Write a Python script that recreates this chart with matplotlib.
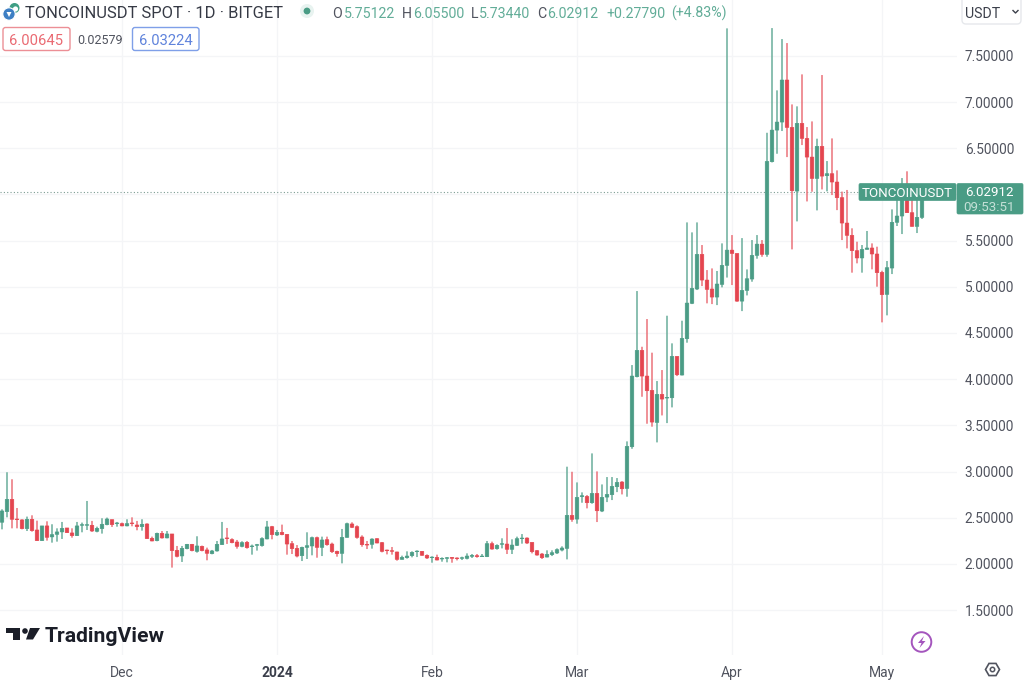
import numpy as np
import matplotlib
matplotlib.use("Agg")
import matplotlib.pyplot as plt
from matplotlib.patches import Circle, FancyBboxPatch, Polygon, RegularPolygon

plt.rcParams["font.family"] = ["Roboto", "DejaVu Sans"]

# daily candles, 7 Nov 2023 -> 9 May 2024
opens = [2.452, 2.567, 2.700, 2.487, 2.477, 2.383, 2.484, 2.368, 2.253, 2.412,
         2.293, 2.321, 2.347, 2.390, 2.336, 2.307, 2.419, 2.419, 2.419, 2.354,
         2.383, 2.426, 2.480, 2.437, 2.437, 2.412, 2.444, 2.422, 2.404, 2.433,
         2.278, 2.253, 2.332, 2.282, 2.325, 2.148, 2.087, 2.166, 2.213, 2.137,
         2.191, 2.152, 2.112, 2.141, 2.210, 2.282, 2.264, 2.238, 2.191, 2.235,
         2.188, 2.202, 2.199, 2.271, 2.404, 2.314, 2.343, 2.321, 2.220, 2.169,
         2.090, 2.180, 2.195, 2.285, 2.180, 2.263, 2.216, 2.137, 2.115, 2.288,
         2.433, 2.404, 2.292, 2.213, 2.213, 2.274, 2.231, 2.151, 2.144, 2.130,
         2.050, 2.068, 2.090, 2.133, 2.137, 2.094, 2.068, 2.072, 2.054, 2.061,
         2.072, 2.065, 2.061, 2.061, 2.083, 2.090, 2.079, 2.079, 2.220, 2.166,
         2.213, 2.216, 2.159, 2.202, 2.274, 2.281, 2.234, 2.144, 2.108, 2.075,
         2.101, 2.119, 2.151, 2.169, 2.526, 2.486, 2.728, 2.731, 2.663, 2.764,
         2.573, 2.724, 2.750, 2.836, 2.887, 2.818, 3.269, 4.027, 4.312, 4.034,
         3.879, 3.532, 3.836, 3.796, 3.799, 4.247, 4.045, 4.438, 4.821, 4.976,
         5.351, 5.073, 4.976, 4.889, 5.026, 5.232, 5.397, 5.361, 4.845, 4.961,
         5.084, 5.340, 5.462, 5.351, 6.354, 6.696, 6.783, 7.238, 6.725, 6.036,
         6.769, 6.606, 6.404, 6.173, 6.520, 6.202, 6.224, 6.134, 5.965, 5.690,
         5.557, 5.391, 5.312, 5.405, 5.420, 5.355, 5.156, 4.918, 5.203, 5.698,
         5.766, 5.975, 5.802, 5.654, 5.75122]
highs = [2.592, 2.993, 2.917, 2.606, 2.484, 2.513, 2.527, 2.469, 2.412, 2.462,
         2.430, 2.386, 2.455, 2.390, 2.386, 2.455, 2.448, 2.682, 2.466, 2.404,
         2.495, 2.502, 2.480, 2.455, 2.448, 2.484, 2.505, 2.466, 2.484, 2.440,
         2.296, 2.339, 2.357, 2.357, 2.325, 2.195, 2.195, 2.217, 2.217, 2.300,
         2.199, 2.177, 2.152, 2.249, 2.455, 2.390, 2.278, 2.260, 2.246, 2.249,
         2.210, 2.217, 2.289, 2.466, 2.412, 2.368, 2.426, 2.321, 2.249, 2.205,
         2.187, 2.343, 2.296, 2.296, 2.296, 2.296, 2.231, 2.144, 2.379, 2.447,
         2.451, 2.418, 2.310, 2.249, 2.278, 2.278, 2.238, 2.155, 2.184, 2.133,
         2.090, 2.137, 2.137, 2.148, 2.140, 2.104, 2.083, 2.101, 2.072, 2.075,
         2.075, 2.072, 2.079, 2.115, 2.108, 2.108, 2.108, 2.249, 2.242, 2.213,
         2.278, 2.389, 2.267, 2.296, 2.324, 2.288, 2.234, 2.151, 2.119, 2.148,
         2.148, 2.169, 2.191, 3.053, 2.998, 2.883, 2.775, 2.746, 3.197, 3.002,
         2.861, 2.941, 2.941, 2.930, 2.897, 3.327, 4.153, 4.954, 4.351, 4.651,
         4.287, 3.980, 4.099, 4.687, 4.388, 4.247, 4.633, 5.697, 5.589, 5.697,
         5.452, 5.181, 5.199, 5.171, 5.470, 7.797, 5.560, 5.361, 5.527, 5.188,
         5.506, 5.560, 5.506, 6.667, 7.800, 7.126, 7.681, 7.638, 6.974, 6.953,
         7.299, 6.729, 6.790, 6.603, 7.292, 6.361, 6.606, 6.260, 6.030, 6.048,
         5.633, 5.488, 5.452, 5.604, 5.470, 5.434, 5.174, 5.279, 5.838, 5.939,
         6.177, 6.250, 5.975, 5.975, 6.05500]
lows = [2.375, 2.505, 2.386, 2.386, 2.375, 2.357, 2.350, 2.249, 2.249, 2.253,
        2.231, 2.242, 2.271, 2.336, 2.285, 2.303, 2.343, 2.368, 2.347, 2.343,
        2.329, 2.419, 2.401, 2.404, 2.408, 2.408, 2.408, 2.365, 2.361, 2.271,
        2.246, 2.246, 2.275, 2.278, 1.961, 2.072, 2.022, 2.159, 2.137, 2.123,
        2.137, 2.040, 2.105, 2.134, 2.206, 2.217, 2.224, 2.166, 2.181, 2.166,
        2.101, 2.145, 2.188, 2.267, 2.267, 2.303, 2.311, 2.101, 2.108, 2.072,
        2.032, 2.054, 2.094, 2.068, 2.086, 2.198, 2.119, 2.079, 2.007, 2.285,
        2.389, 2.274, 2.187, 2.162, 2.166, 2.224, 2.126, 2.104, 2.101, 2.036,
        2.048, 2.058, 2.072, 2.075, 2.090, 2.054, 2.014, 2.039, 2.025, 2.018,
        2.014, 2.039, 2.043, 2.050, 2.065, 2.068, 2.077, 2.075, 2.155, 2.155,
        2.169, 2.108, 2.108, 2.195, 2.220, 2.216, 2.115, 2.090, 2.054, 2.072,
        2.086, 2.108, 2.137, 2.050, 2.457, 2.436, 2.663, 2.602, 2.652, 2.454,
        2.562, 2.670, 2.692, 2.778, 2.753, 2.728, 3.247, 4.020, 3.810, 3.518,
        3.486, 3.316, 3.608, 3.525, 3.695, 4.034, 4.041, 4.395, 4.813, 4.965,
        5.008, 4.821, 4.813, 4.802, 4.994, 5.100, 5.019, 4.838, 4.737, 4.907,
        5.055, 5.304, 5.325, 5.325, 6.346, 6.440, 6.686, 6.404, 5.405, 5.708,
        6.534, 5.924, 6.029, 5.827, 6.054, 6.033, 5.993, 5.830, 5.506, 5.416,
        5.153, 5.254, 5.153, 5.403, 5.189, 5.001, 4.615, 4.691, 5.138, 5.658,
        5.571, 5.799, 5.651, 5.582, 5.73440]
closes = [2.574, 2.700, 2.484, 2.480, 2.383, 2.484, 2.361, 2.253, 2.412, 2.289,
          2.318, 2.347, 2.386, 2.339, 2.307, 2.412, 2.426, 2.426, 2.357, 2.386,
          2.430, 2.487, 2.426, 2.444, 2.412, 2.437, 2.437, 2.404, 2.430, 2.275,
          2.249, 2.332, 2.282, 2.325, 2.145, 2.083, 2.170, 2.213, 2.145, 2.195,
          2.145, 2.116, 2.141, 2.213, 2.271, 2.275, 2.231, 2.191, 2.231, 2.177,
          2.195, 2.210, 2.275, 2.401, 2.318, 2.343, 2.318, 2.216, 2.166, 2.086,
          2.180, 2.198, 2.285, 2.180, 2.260, 2.209, 2.133, 2.112, 2.288, 2.436,
          2.397, 2.288, 2.209, 2.205, 2.270, 2.227, 2.137, 2.144, 2.137, 2.050,
          2.072, 2.086, 2.126, 2.140, 2.094, 2.065, 2.075, 2.043, 2.061, 2.068,
          2.061, 2.058, 2.068, 2.086, 2.094, 2.079, 2.086, 2.220, 2.162, 2.202,
          2.220, 2.159, 2.205, 2.274, 2.281, 2.227, 2.133, 2.097, 2.068, 2.104,
          2.122, 2.155, 2.173, 2.527, 2.483, 2.721, 2.739, 2.663, 2.764, 2.576,
          2.721, 2.753, 2.840, 2.883, 2.814, 3.273, 4.034, 4.312, 4.034, 3.875,
          3.536, 3.836, 3.785, 3.803, 4.247, 4.048, 4.442, 4.824, 4.983, 5.351,
          5.073, 4.972, 4.889, 5.030, 5.232, 5.397, 5.361, 4.845, 4.961, 5.087,
          5.340, 5.462, 5.351, 6.357, 6.696, 6.783, 7.238, 6.725, 6.040, 6.769,
          6.606, 6.404, 6.173, 6.520, 6.198, 6.224, 6.134, 5.964, 5.690, 5.557,
          5.391, 5.312, 5.405, 5.420, 5.355, 5.153, 4.915, 5.207, 5.698, 5.766,
          5.975, 5.802, 5.654, 5.752, 6.02912]

month_pos = [24, 55, 86, 115, 146, 176]
month_labels = ["Dec", "2024", "Feb", "Mar", "Apr", "May"]
price_ticks = [1.5, 2.0, 2.5, 3.0, 3.5, 4.0, 4.5, 5.0, 5.5, 6.0, 6.5, 7.0, 7.5]
last_price = 6.02912

GREEN = "#4a9c85"
RED = "#e4454f"
WICK_GREEN = "#62aa96"
WICK_RED = "#ea6c74"
GRID = "#f4f5f7"
TICK_TEXT = "#50535e"

fig = plt.figure(figsize=(10.24, 6.8), dpi=100, facecolor="white")
ax = fig.add_axes([0, 25 / 680, 957 / 1024, 655 / 680])

opens = np.array(opens)
closes = np.array(closes)
idx = np.arange(len(opens))
up = closes >= opens

ax.vlines(idx[up], np.array(lows)[up], np.array(highs)[up], color=WICK_GREEN, lw=1.05, zorder=2, snap=False)
ax.vlines(idx[~up], np.array(lows)[~up], np.array(highs)[~up], color=WICK_RED, lw=1.05, zorder=2, snap=False)
bars_up = ax.bar(idx[up], (closes - opens)[up], bottom=opens[up], width=0.72,
                 color=GREEN, edgecolor=GREEN, lw=0.4, zorder=3)
bars_down = ax.bar(idx[~up], (opens - closes)[~up], bottom=closes[~up], width=0.72,
                   color=RED, edgecolor=RED, lw=0.4, zorder=3)
for b in list(bars_up) + list(bars_down):
    b.set_snap(False)

ax.axhline(last_price, color="#7d9c93", lw=0.8, ls=(0, (1, 2)), zorder=1)

ax.set_xlim(-0.4, 191)
ax.set_ylim(1.015, 8.104)
ax.set_xticks(month_pos)
ax.set_xticklabels(month_labels, fontsize=10, color=TICK_TEXT)
ax.get_xticklabels()[1].set_fontweight("bold")
ax.get_xticklabels()[1].set_color("#3a3e4a")
ax.set_yticks(price_ticks)
# the 6.00000 label sits behind the last price tag, so it stays empty
ax.set_yticklabels(["" if p == 6.0 else f"{p:.5f}" for p in price_ticks], fontsize=9.8, color=TICK_TEXT)
ax.yaxis.tick_right()
ax.tick_params(length=0)
ax.tick_params(axis="x", pad=8)
ax.tick_params(axis="y", pad=5.5)
ax.grid(True, color=GRID, lw=0.9)
ax.set_axisbelow(True)
for s in ax.spines.values():
    s.set_visible(False)

# overlay in pixel units for the TradingView furniture
ov = fig.add_axes([0, 0, 1, 1], facecolor="none", zorder=5)
ov.set_xlim(0, 1024)
ov.set_ylim(680, 0)
ov.axis("off")


def box(x0, y0, x1, y1, fc, ec, r=2.5, lw=1.0):
    ov.add_patch(FancyBboxPatch((x0 + r, y0 + r), x1 - x0 - 2 * r, y1 - y0 - 2 * r,
                                boxstyle=f"round,pad={r},rounding_size={r}",
                                fc=fc, ec=ec, lw=lw, mutation_aspect=1))


def txt(x, y, s, color, size, ha="left", weight="normal"):
    ov.text(x, y, s, color=color, fontsize=size, ha=ha, va="center_baseline", fontweight=weight)


# header
ov.add_patch(Circle((14.5, 8), 5, fc="#3f9e84", ec="none"))
ov.add_patch(Circle((15.5, 9), 2.6, fc="white", ec="none"))
ov.add_patch(Circle((9, 14), 6.2, fc="#3d7fc4", ec="white", lw=0.8))
ov.add_patch(Polygon([(6.5, 12), (11.5, 12), (9, 17)], fc="white", ec="none"))
txt(25, 11.5, "TONCOINUSDT SPOT · 1D · BITGET", "#363a45", 11.9)
ov.add_patch(Circle((307, 11), 7, fc="#e8f3f0", ec="none"))
ov.add_patch(Circle((307, 11), 3.4, fc="#4a9c85", ec="none"))

OHLC_GREEN = "#62ad98"
OHLC_DARK = "#50535e"
for x, s, c in [(332, "O", OHLC_DARK), (344, "5.75122", OHLC_GREEN),
                (402, "H", OHLC_DARK), (413, "6.05500", OHLC_GREEN),
                (471, "L", OHLC_DARK), (479, "5.73440", OHLC_GREEN),
                (537, "C", OHLC_DARK), (547, "6.02912", OHLC_GREEN),
                (606, "+0.27790", OHLC_GREEN), (671, "(+4.83%)", OHLC_GREEN)]:
    txt(x, 12, s, c, 10.2)

box(3, 27.5, 70, 50.5, "white", "#ec8f96")
txt(36.5, 39.5, "6.00645", "#ea6a72", 10.6, ha="center")
txt(100.5, 39.5, "0.02579", "#50535e", 9, ha="center")
box(132.5, 27.5, 199, 50.5, "white", "#7f9fe8")
txt(165.5, 39.5, "6.03224", "#5f83dc", 10.6, ha="center")

box(962, -4, 1021, 24, "white", "#e6e8ec", r=4)
txt(965, 12.5, "USDT", "#3c404b", 10.2)
ov.plot([1013, 1015.5, 1018], [10.5, 13, 10.5], color="#3c404b", lw=1)

# last price labels
box(859, 183.5, 956, 200.5, "#4a9c85", "#4a9c85", r=1.5, lw=0.5)
txt(907.5, 192, "TONCOINUSDT", "white", 9.6, ha="center")
box(957, 183.5, 1023, 214, "#4a9c85", "#4a9c85", r=1.5, lw=0.5)
txt(989.5, 190.5, "6.02912", "white", 9.6, ha="center")
txt(989.5, 206, "09:53:51", "#c4e0d7", 9.6, ha="center")

# logo
LOGO = "#1b1e28"
ov.add_patch(Polygon([(6, 628), (20, 628), (20, 639.5), (13, 639.5), (13, 633), (6, 633)], fc=LOGO, ec="none"))
ov.add_patch(Circle((25, 631), 2.8, fc=LOGO, ec="none"))
ov.add_patch(Polygon([(30, 628), (40, 628), (33, 639.5), (26, 639.5)], fc=LOGO, ec="none"))
txt(45, 634.5, "TradingView", LOGO, 15.2, weight="bold")

# bottom-right icons
ov.add_patch(Circle((921.5, 642), 9.8, fc="white", ec="#a455bd", lw=1.4))
ov.add_patch(Polygon([(924, 636), (918, 643), (921.5, 643), (919.5, 648), (925.5, 641), (922, 641)],
                     fc="#a455bd", ec="none"))
ov.add_patch(RegularPolygon((992.5, 669.5), 6, radius=7, orientation=np.pi / 6,
                            fc="white", ec="#50535e", lw=1.2))
ov.add_patch(Circle((992.5, 669.5), 2.2, fc="white", ec="#50535e", lw=1.1))

fig.savefig("out.png", dpi=100)
